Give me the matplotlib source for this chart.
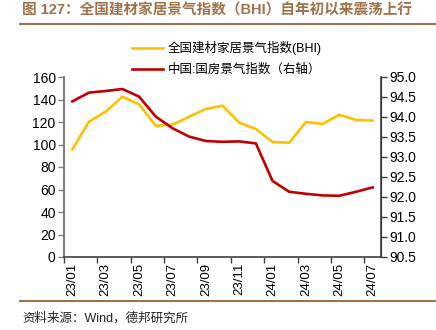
import numpy as np
import matplotlib
matplotlib.use("Agg")
import matplotlib.pyplot as plt

plt.rcParams['font.family'] = ['Liberation Sans', 'Noto Sans CJK SC']

months = ['23/01', '23/02', '23/03', '23/04', '23/05', '23/06', '23/07', '23/08',
          '23/09', '23/10', '23/11', '23/12', '24/01', '24/02', '24/03', '24/04',
          '24/05', '24/06', '24/07']
bhi = [95.7, 120.3, 129.2, 142.5, 135.7, 116.7, 117.6, 124.7, 131.6, 134.5,
       119.4, 113.8, 102.2, 101.6, 120.0, 118.2, 126.5, 121.8, 121.2]
house = [94.39, 94.61, 94.65, 94.70, 94.51, 94.01, 93.72, 93.51, 93.40, 93.38,
         93.39, 93.34, 92.40, 92.13, 92.08, 92.04, 92.03, 92.13, 92.24]

yellow = '#FFC000'
red = '#C00000'
brown = '#A0724A'

fig = plt.figure(figsize=(4.36, 3.30), dpi=100)
ax = fig.add_axes([64/436, (330-257)/330, (381-64)/436, 180/330])
ax2 = ax.twinx()

x = np.arange(len(months))
l1, = ax.plot(x, bhi, color=yellow, lw=1.9, label='全国建材家居景气指数(BHI)')
l2, = ax2.plot(x, house, color=red, lw=1.9, label='中国:国房景气指数（右轴）')

ax.set_xlim(-0.5, len(months) - 0.5)
ax.set_ylim(0, 160)
ax.set_yticks(np.arange(0, 161, 20))
ax2.set_ylim(90.5, 95.0)
ax2.set_yticks(np.arange(90.5, 95.01, 0.5))
ax2.set_yticklabels(['%.1f' % v for v in np.arange(90.5, 95.01, 0.5)])

# tick marks on category boundaries, labels on category centres
ax.set_xticks(np.arange(-0.5, len(months) - 0.5, 2))
ax.set_xticklabels([])
ax.set_xticks(x[::2], minor=True)
ax.set_xticklabels(months[::2], minor=True, rotation=90)
ax.tick_params(axis='x', which='minor', length=0, pad=4, labelsize=9.5)
ax.tick_params(axis='x', which='major', length=4, width=1, color='#404040')
ax.tick_params(axis='y', length=4, width=1, color='#808080', labelsize=10, pad=2)
ax2.tick_params(axis='y', length=4, width=1, color='#404040', labelsize=10, pad=2)

for a in (ax, ax2):
    a.spines['top'].set_visible(False)
ax.spines['left'].set_color('#808080')
ax.spines['left'].set_linewidth(1.5)
ax.spines['bottom'].set_color('#404040')
ax.spines['bottom'].set_linewidth(1.2)
ax2.spines['right'].set_color('#404040')
ax2.spines['right'].set_linewidth(1.2)
ax2.spines['left'].set_visible(False)
ax2.spines['bottom'].set_visible(False)

fig.legend(handles=[l1, l2], loc='upper left', bbox_to_anchor=(127/436, 1 - 36/330),
           frameon=False, fontsize=9, handlelength=2.5, handletextpad=0.35,
           labelspacing=0.7, borderaxespad=0)

fig.text(22/436, 1 - 10/330, '图 127：全国建材家居景气指数（BHI）自年初以来震荡上行',
         color=brown, fontsize=10.5, fontweight='bold', va='center', ha='left')
fig.add_artist(plt.Line2D([20/436, 1], [1 - 24/330] * 2, color=brown, lw=1.5))
fig.add_artist(plt.Line2D([20/436, 1], [1 - 301/330] * 2, color=brown, lw=1.5))
fig.text(22/436, 1 - 318/330, '资料来源：Wind，德邦研究所', fontsize=9,
         color='#222222', va='center', ha='left')

fig.savefig('out.png', dpi=100)
